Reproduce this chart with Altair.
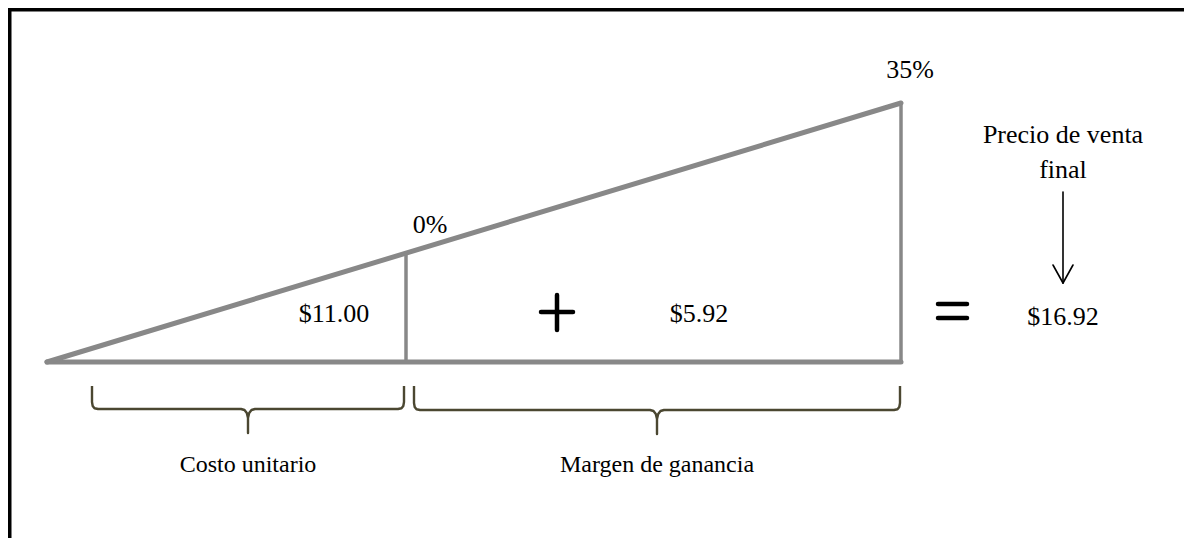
import altair as alt
import pandas as pd

# ---- diagram content ----
cost_label = "$11.00"
margin_label = "$5.92"
price_label = "$16.92"
pct_start = "0%"
pct_end = "35%"
label_cost = "Costo unitario"
label_margin = "Margen de ganancia"
price_title = ["Precio de venta", "final"]

# ---- geometry (pixel coordinates of the figure) ----
W, H = 1176, 530
X0, Y0 = 8, 8

apex = (47, 362)
mid_x = 406
end_x = 901
top_y = 103

def y_on_hyp(x):
    return apex[1] + (top_y - apex[1]) * (x - apex[0]) / (end_x - apex[0])

thick = pd.DataFrame({
    "x": [apex[0], apex[0]],
    "y": [apex[1], apex[1]],
    "x2": [end_x, end_x],
    "y2": [apex[1], top_y],
})
thin = pd.DataFrame({
    "x": [mid_x, end_x],
    "y": [apex[1], apex[1]],
    "x2": [mid_x, end_x],
    "y2": [y_on_hyp(mid_x) + 1, top_y],
})
border = pd.DataFrame({
    "x": [0, 9],
    "y": [9, 0],
    "x2": [1192, 9],
    "y2": [9, 552],
})
symbols = pd.DataFrame({
    "x": [541, 557, 938, 938],
    "y": [312, 295, 304, 318],
    "x2": [573, 557, 967, 967],
    "y2": [312, 330, 304, 318],
})
arrow = pd.DataFrame({
    "x": [1063, 1053, 1073],
    "y": [192, 265, 265],
    "x2": [1063, 1063, 1063],
    "y2": [283, 283, 283],
})

def brace(name, x0, x1, cx, ytop, yh, ytip):
    pts = [(x0, ytop), (x0, yh - 7), (x0 + 0.7, yh - 3), (x0 + 2.5, yh - 0.7), (x0 + 6, yh),
           (cx - 7, yh), (cx - 3.5, yh + 1), (cx - 1.2, yh + 4), (cx, yh + 9), (cx, ytip),
           (cx, yh + 9), (cx + 1.2, yh + 4), (cx + 3.5, yh + 1), (cx + 7, yh),
           (x1 - 6, yh), (x1 - 2.5, yh - 0.7), (x1 - 0.7, yh - 3), (x1, yh - 7), (x1, ytop)]
    return pd.DataFrame({"b": name, "x": [p[0] for p in pts], "y": [p[1] for p in pts],
                         "o": list(range(len(pts)))})

braces = pd.concat([
    brace("cost", 92, 404, 248, 386, 409, 433),
    brace("margin", 414, 900, 657, 386, 410, 434),
])

numbers = pd.DataFrame({
    "t": [cost_label, margin_label, price_label, pct_start, pct_end,
          price_title[0], price_title[1]],
    "x": [334, 699, 1063, 430, 910, 1063, 1063],
    "y": [322, 322, 325, 233, 78, 143, 178],
})
labels = pd.DataFrame({
    "t": [label_cost, label_margin],
    "x": [248, 657],
    "y": [472, 472],
})

xs = alt.Scale(domain=[X0, X0 + W], nice=False, zero=False)
ys = alt.Scale(domain=[Y0, Y0 + H], nice=False, zero=False, reverse=True)

def seg(df, color, width, cap="round"):
    return alt.Chart(df).mark_rule(color=color, strokeWidth=width, strokeCap=cap).encode(
        x=alt.X("x:Q", scale=xs, axis=None),
        y=alt.Y("y:Q", scale=ys, axis=None),
        x2="x2:Q",
        y2="y2:Q",
    )

def txt(df, size):
    return alt.Chart(df).mark_text(font="Liberation Serif", fontSize=size, color="#000000",
                                   align="center", baseline="alphabetic").encode(
        x=alt.X("x:Q", scale=xs, axis=None),
        y=alt.Y("y:Q", scale=ys, axis=None),
        text="t:N",
    )

gray = "#888888"
layers = [
    seg(border, "#000000", 5, "butt"),
    seg(thick, gray, 5),
    seg(thin, gray, 3.5, "butt"),
    seg(symbols, "#000000", 4.5),
    seg(arrow, "#000000", 1.6),
    alt.Chart(braces).mark_line(color="#4b4731", strokeWidth=2.4, strokeJoin="round",
                                interpolate="linear").encode(
        x=alt.X("x:Q", scale=xs, axis=None),
        y=alt.Y("y:Q", scale=ys, axis=None),
        detail="b:N",
        order="o:Q",
    ),
    txt(numbers, 26),
    txt(labels, 24),
]

chart = alt.layer(*layers).properties(
    width=W, height=H, padding=0, background="white",
    autosize=alt.AutoSizeParams(type="none"),
).configure_view(strokeWidth=0)

chart.save("out.html", embed_options={"renderer": "svg", "actions": False})
